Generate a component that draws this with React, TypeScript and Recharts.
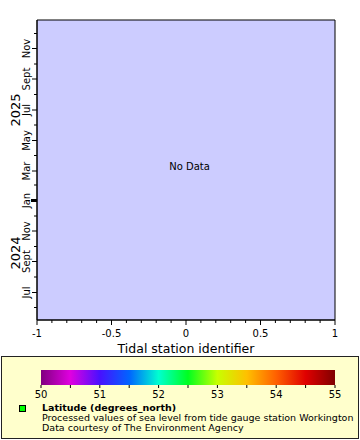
import { ComposedChart, Label, ReferenceArea, ReferenceDot, Scatter, XAxis, YAxis } from "recharts";

// no observations came back for this station, the plot stays empty
const stationPoints: { station: number; time: number }[] = [];

const stationTicks = [
  -1, -0.9, -0.8, -0.7, -0.6, -0.5, -0.4, -0.3, -0.2, -0.1, 0, 0.1, 0.2, 0.3,
  0.4, 0.5, 0.6, 0.7, 0.8, 0.9, 1,
];
const stationDomain = [-1, 1];

const monthTicks = [
  "2024-06-01", "2024-07-01", "2024-08-01", "2024-09-01", "2024-10-01",
  "2024-11-01", "2024-12-01", "2025-01-01", "2025-02-01", "2025-03-01",
  "2025-04-01", "2025-05-01", "2025-06-01", "2025-07-01", "2025-08-01",
  "2025-09-01", "2025-10-01", "2025-11-01", "2025-12-01",
];
const monthNames = ["Jan", "Feb", "Mar", "Apr", "May", "Jun", "Jul", "Aug", "Sept", "Oct", "Nov", "Dec"];
const timeDomain = ["2024-05-07", "2025-12-28"];
const yearLabels = [
  { year: "2025", center: "2025-07-01" },
  { year: "2024", center: "2024-09-18" },
];

const latitudeTicks = [50, 50.5, 51, 51.5, 52, 52.5, 53, 53.5, 54, 54.5, 55];
const latitudeDomain = [50, 55];
const paletteStops = [
  "#800080", "#e000e0", "#4810ff", "#0064ff", "#00ffd0", "#00ff20",
  "#c8ff00", "#ffc000", "#ff6000", "#e00000", "#800000",
];

const legendLines = [
  "Processed values of sea level from tide gauge station Workington",
  "Data courtesy of The Environment Agency",
];

const ms = (s: string) => Date.parse(s + "T00:00:00Z");
const FONT = "'DejaVu Sans', sans-serif";

function StationTick({ x, y, payload }: any) {
  const v = payload.value as number;
  const major = Math.abs(v * 2 - Math.round(v * 2)) < 1e-6;
  return (
    <g>
      <line x1={x} x2={x} y1={y} y2={y + (major ? 5 : 3)} stroke="#000" />
      {major && (
        <text x={x} y={y + 17} textAnchor="middle" fontSize={10} fontFamily={FONT} fill="#000">
          {String(Math.round(v * 10) / 10)}
        </text>
      )}
    </g>
  );
}

function MonthTick({ x, y, payload }: any) {
  const m = new Date(payload.value).getUTCMonth();
  const yearStart = m === 0;
  const major = m % 2 === 0;
  const len = yearStart ? 6 : major ? 5 : 3;
  return (
    <g>
      <line x1={x - len} x2={x} y1={y} y2={y} stroke="#000" strokeWidth={yearStart ? 3 : 1} />
      {major && (
        <text
          x={x - 7}
          y={y}
          transform={`rotate(-90 ${x - 7} ${y})`}
          textAnchor="middle"
          fontSize={10}
          fontFamily={FONT}
          fill="#000"
        >
          {monthNames[m]}
        </text>
      )}
    </g>
  );
}

function LatitudeTick({ x, y, payload }: any) {
  const v = payload.value as number;
  const major = Number.isInteger(v);
  return (
    <g>
      <line x1={x} x2={x} y1={y} y2={y + 3} stroke="#000" />
      {major && (
        <text x={x} y={y + 13} textAnchor="middle" fontSize={10} fontFamily={FONT} fill="#000">
          {v}
        </text>
      )}
    </g>
  );
}

const paletteRows = latitudeTicks.map((lat) => ({ lat, band: 1 }));

export default function App() {
  return (
    <div style={{ position: "absolute", left: 0, top: 0, width: 360, height: 440, background: "#fff", fontFamily: FONT }}>
      <ComposedChart
        width={360}
        height={356}
        data={stationPoints}
        margin={{ top: 20, right: 25, left: 0, bottom: 0 }}
      >
        <XAxis
          type="number"
          dataKey="station"
          domain={stationDomain}
          allowDataOverflow
          ticks={stationTicks}
          interval={0}
          height={36}
          tickSize={0}
          tickMargin={0}
          tickLine={false}
          axisLine={{ stroke: "#000" }}
          tick={<StationTick />}
        >
          <Label
            value="Tidal station identifier"
            position="insideBottom"
            offset={3}
            fontSize={12.5}
            fontFamily={FONT}
            fill="#000"
          />
        </XAxis>
        <YAxis
          type="number"
          dataKey="time"
          domain={timeDomain.map(ms)}
          allowDataOverflow
          ticks={monthTicks.map(ms)}
          interval={0}
          width={37}
          tickSize={0}
          tickMargin={0}
          tickLine={false}
          axisLine={{ stroke: "#000" }}
          tick={<MonthTick />}
        />
        <ReferenceArea
          x1={stationDomain[0]}
          x2={stationDomain[1]}
          y1={ms(timeDomain[0])}
          y2={ms(timeDomain[1])}
          fill="#ccccff"
          fillOpacity={1}
          stroke="#000"
          strokeWidth={1}
        >
          <Label value="No Data" position="center" dx={3.5} dy={-3.5} fontSize={10} fontFamily={FONT} fill="#000" />
        </ReferenceArea>
        {yearLabels.map((yl) => (
          <ReferenceDot
            key={yl.year}
            x={stationDomain[0]}
            y={ms(yl.center)}
            r={0}
            stroke="none"
            label={{
              content: ({ viewBox }: any) => {
                const cy = viewBox.y + viewBox.height / 2;
                return (
                  <text
                    x={19.5}
                    y={cy}
                    transform={`rotate(-90 19.5 ${cy})`}
                    textAnchor="middle"
                    fontSize={13}
                    fontFamily={FONT}
                    fill="#000"
                  >
                    {yl.year}
                  </text>
                );
              },
            }}
          />
        ))}
        <Scatter dataKey="time" fill="#00ff00" isAnimationActive={false} />
      </ComposedChart>

      <div
        style={{
          position: "absolute",
          left: 1,
          top: 356,
          width: 356,
          height: 81,
          background: "#ffffcc",
          border: "1px solid #222",
        }}
      />
      <div style={{ position: "absolute", left: 0, top: 356, width: 360, height: 44 }}>
        <ComposedChart
          width={360}
          height={44}
          data={paletteRows}
          margin={{ top: 14, right: 25, left: 41, bottom: 0 }}
        >
          <defs>
            <linearGradient id="latPalette" x1="0" x2="1" y1="0" y2="0">
              {paletteStops.map((c, i) => (
                <stop key={i} offset={i / (paletteStops.length - 1)} stopColor={c} />
              ))}
            </linearGradient>
          </defs>
          <XAxis
            type="number"
            dataKey="lat"
            domain={latitudeDomain}
            allowDataOverflow
            ticks={latitudeTicks}
            interval={0}
            height={15}
            tickSize={0}
            tickMargin={0}
            tickLine={false}
            axisLine={false}
            tick={<LatitudeTick />}
          />
          <YAxis hide type="number" dataKey="band" width={0} domain={[0, 1]} allowDataOverflow />
          <ReferenceArea
            x1={latitudeDomain[0]}
            x2={latitudeDomain[1]}
            y1={0}
            y2={1}
            fill="url(#latPalette)"
            fillOpacity={1}
            stroke="none"
          />
          <Scatter dataKey="band" fill="none" shape={() => <g />} isAnimationActive={false} />
        </ComposedChart>
      </div>
      <div
        style={{
          position: "absolute",
          left: 19,
          top: 405,
          width: 5,
          height: 5,
          background: "#00ff00",
          border: "1px solid #000",
        }}
      />
      <div
        style={{
          position: "absolute",
          left: 42,
          top: 402.5,
          fontSize: 9.5,
          lineHeight: "10px",
          color: "#000",
          whiteSpace: "nowrap",
        }}
      >
        <div style={{ fontWeight: "bold" }}>Latitude (degrees_north)</div>
        {legendLines.map((t) => (
          <div key={t}>{t}</div>
        ))}
      </div>
    </div>
  );
}
